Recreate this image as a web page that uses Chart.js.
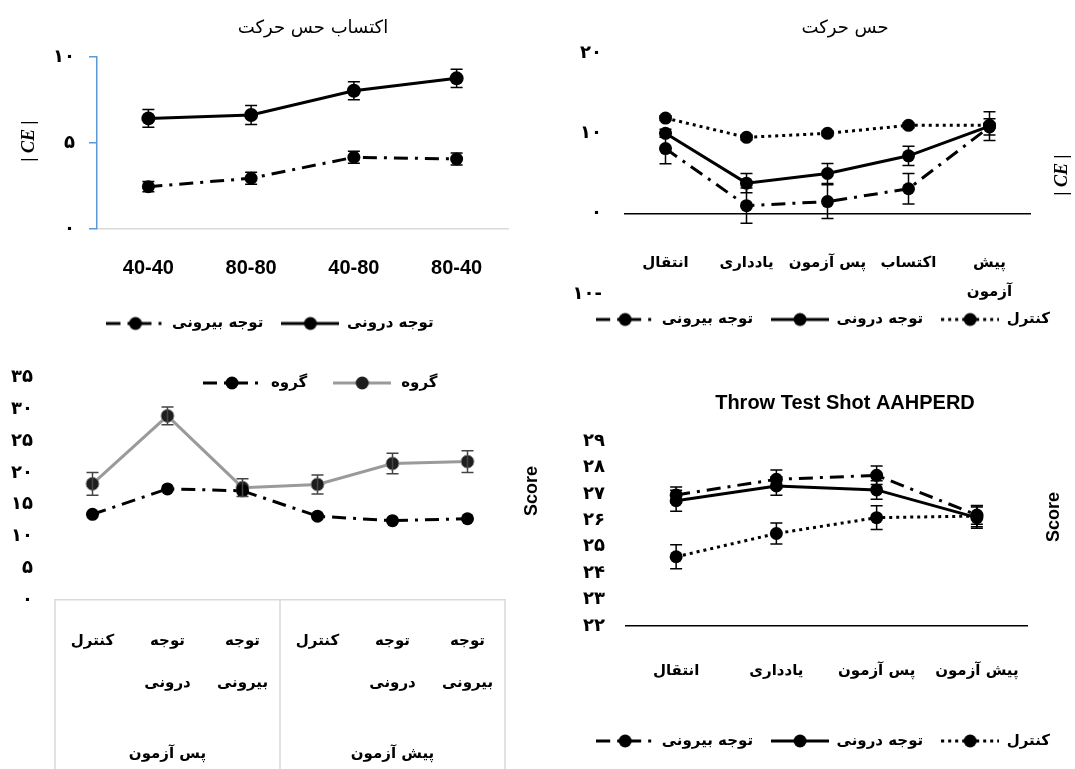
<!DOCTYPE html>
<html>
<head>
<meta charset="utf-8">
<script src="https://cdn.jsdelivr.net/npm/chart.js@4.4.1/dist/chart.umd.min.js"></script>
<style>
  html, body { margin: 0; padding: 0; background: #fff; }
  #wrap { position: relative; width: 1075px; height: 769px; overflow: hidden; }
  canvas { position: absolute; }
</style>
</head>
<body>
<div id="wrap">
  <canvas id="c1" width="540" height="345" style="left:0;top:0"></canvas>
  <canvas id="c2" width="535" height="345" style="left:540px;top:0"></canvas>
  <canvas id="c3" width="540" height="424" style="left:0;top:345px"></canvas>
  <canvas id="c4" width="535" height="389" style="left:540px;top:380px"></canvas>
</div>
<script>
"use strict";

// names
const extName = "توجه بیرونی";
const intName = "توجه درونی";
const ctrlName = "کنترل";
const groupName = "گروه";

// top left: اکتساب حس حرکت
const accTitle = "اکتساب حس حرکت";
const accLabels = ["40-40", "80-80", "40-80", "80-40"];
const accExternal = [2.46, 2.95, 4.17, 4.07];
const accExternalErr = [0.3, 0.35, 0.35, 0.35];
const accInternal = [6.43, 6.63, 8.04, 8.76];
const accInternalErr = [0.52, 0.55, 0.52, 0.53];
const accTicks = ["۰", "۵", "۱۰"];

// top right: حس حرکت
const kinTitle = "حس حرکت";
const kinLabels = ["انتقال", "یادداری", "پس آزمون", "اکتساب", ["پیش", "آزمون"]];
const kinExternal = [8.1, 1.0, 1.5, 3.1, 10.8];
const kinExternalErr = [1.9, 2.2, 2.1, 1.9, 1.0];
const kinInternal = [10.0, 3.8, 5.0, 7.2, 10.9];
const kinInternalErr = [0.5, 1.2, 1.25, 1.2, 1.8];
const kinControl = [11.9, 9.5, 10.0, 11.0, 11.0];
const kinControlErr = [0.3, 0.3, 0.3, 0.3, 0.3];
const kinTicks = ["۱۰-", "۰", "۱۰", "۲۰"];

// bottom left: groups by phase
const grpLabels = [["کنترل"], ["توجه", "درونی"], ["توجه", "بیرونی"], ["کنترل"], ["توجه", "درونی"], ["توجه", "بیرونی"]];
const grpPhases = ["پس آزمون", "پیش آزمون"];
const grpDashed = [13.5, 17.5, 17.2, 13.2, 12.5, 12.8];
const grpGray = [18.3, 29.0, 17.7, 18.2, 21.5, 21.8];
const grpGrayErr = [1.8, 1.4, 1.4, 1.5, 1.6, 1.7];
const grpTicks = ["۰", "۵", "۱۰", "۱۵", "۲۰", "۲۵", "۳۰", "۳۵"];

// bottom right: Throw Test Shot AAHPERD
const shotTitle = "Throw Test Shot AAHPERD";
const shotLabels = ["انتقال", "یادداری", "پس آزمون", "پیش آزمون"];
const shotExternal = [26.96, 27.55, 27.7, 26.2];
const shotExternalErr = [0.3, 0.35, 0.35, 0.35];
const shotInternal = [26.74, 27.3, 27.15, 26.1];
const shotInternalErr = [0.4, 0.35, 0.35, 0.4];
const shotControl = [24.62, 25.5, 26.1, 26.16];
const shotControlErr = [0.45, 0.4, 0.45, 0.4];
const shotTicks = ["۲۲", "۲۳", "۲۴", "۲۵", "۲۶", "۲۷", "۲۸", "۲۹"];

const faFont = "'DejaVu Sans', sans-serif";
const latinFont = "'Liberation Sans', Arial, sans-serif";

Chart.defaults.color = "#000";
Chart.defaults.font.family = faFont;

const solid = { borderColor: "#000", borderWidth: 3, borderDash: [] };
const dashDot = { borderColor: "#000", borderWidth: 3, borderDash: [14, 7, 3, 7] };
const dotted = { borderColor: "#000", borderWidth: 3, borderDash: [3, 4] };

function series(label, data, errors, style, extra) {
  return Object.assign({
    label, data, errors,
    fill: false, tension: 0,
    pointStyle: "circle", pointRadius: 6.5, pointHoverRadius: 6.5,
    pointBackgroundColor: "#000", pointBorderColor: "#000", pointBorderWidth: 0
  }, style, extra || {});
}

// vertical error bars from each dataset's errors array
const errorBars = {
  id: "errorBars",
  afterDatasetsDraw(chart) {
    const ctx = chart.ctx;
    chart.data.datasets.forEach((ds, i) => {
      if (!ds.errors) return;
      const meta = chart.getDatasetMeta(i);
      const ys = chart.scales[meta.yAxisID];
      ctx.save();
      ctx.strokeStyle = ds.errorColor || "#000";
      ctx.lineWidth = 1.5;
      meta.data.forEach((pt, j) => {
        const hi = ys.getPixelForValue(ds.data[j] + ds.errors[j]);
        const lo = ys.getPixelForValue(ds.data[j] - ds.errors[j]);
        ctx.beginPath();
        ctx.moveTo(pt.x, hi); ctx.lineTo(pt.x, lo);
        ctx.moveTo(pt.x - 6, hi); ctx.lineTo(pt.x + 6, hi);
        ctx.moveTo(pt.x - 6, lo); ctx.lineTo(pt.x + 6, lo);
        ctx.stroke();
      });
      ctx.restore();
    });
  }
};

function textLayer(items) {
  return {
    id: "textLayer",
    afterDraw(chart) {
      const ctx = chart.ctx;
      items.forEach(t => {
        ctx.save();
        ctx.font = t.font;
        ctx.fillStyle = "#000";
        ctx.textAlign = "center";
        ctx.textBaseline = "middle";
        ctx.translate(t.x, t.y);
        if (t.rot) ctx.rotate(t.rot * Math.PI / 180);
        ctx.fillText(t.text, 0, 0);
        ctx.restore();
      });
    }
  };
}

function legendSymbol(ds) {
  const c = document.createElement("canvas");
  c.width = 58; c.height = 16;
  const g = c.getContext("2d");
  g.strokeStyle = ds.borderColor;
  g.lineWidth = ds.borderWidth;
  g.setLineDash(ds.borderDash || []);
  g.beginPath(); g.moveTo(0, 8); g.lineTo(58, 8); g.stroke();
  g.setLineDash([]);
  g.fillStyle = ds.pointBackgroundColor;
  g.beginPath(); g.arc(29, 8, 6.5, 0, Math.PI * 2); g.fill();
  return c;
}

const legendFontSize = 15;

function legendOptions(align) {
  return {
    position: "bottom",
    align,
    labels: {
      usePointStyle: true, pointStyleWidth: 58, boxHeight: 13, padding: 18, color: "#000",
      font: { family: faFont, size: legendFontSize, weight: "bold" },
      generateLabels(chart) {
        return chart.data.datasets.map((ds, i) => ({
          text: ds.label, datasetIndex: i, pointStyle: legendSymbol(ds),
          fillStyle: "#000", strokeStyle: "#000", lineWidth: 0, hidden: false, fontColor: "#000"
        }));
      }
    }
  };
}

function spacer(w) {
  return {
    position: "right", display: true,
    ticks: { display: false }, grid: { display: false, drawTicks: false }, border: { display: false },
    afterFit(s) { s.width = w; }
  };
}

const noGrid = { display: false, drawTicks: false };
const tickFont = { family: faFont, size: 18, weight: "bold" };
const labelFont = { family: faFont, size: 15, weight: "bold" };
const ceFont = "bold italic 18px 'Liberation Serif', serif";
const scoreFont = "bold 18px " + latinFont;

// chart 1
new Chart(document.getElementById("c1"), {
  type: "line",
  data: {
    labels: accLabels,
    datasets: [
      series(extName, accExternal, accExternalErr, dashDot),
      series(intName, accInternal, accInternalErr, solid, { pointRadius: 7 })
    ]
  },
  options: {
    responsive: false, animation: false, events: [],
    layout: { padding: { top: 57, bottom: 4, left: 0, right: 0 } },
    plugins: { legend: legendOptions("center"), tooltip: { enabled: false } },
    scales: {
      x: {
        offset: true, grid: noGrid,
        border: { display: true, color: "#d9d9d9", width: 1.5 },
        ticks: { color: "#000", padding: 27, autoSkip: false, maxRotation: 0, font: { family: latinFont, size: 20, weight: "bold" } },
        afterFit(s) { s.height = 69; }
      },
      y: {
        min: 0, max: 10,
        grid: { display: true, drawOnChartArea: false, drawTicks: true, tickLength: 8, color: "#5b9bd5", lineWidth: 1.5 },
        border: { display: true, color: "#5b9bd5", width: 1.5 },
        ticks: { stepSize: 5, padding: 14, color: "#000", font: tickFont, callback: v => accTicks[v / 5] },
        afterFit(s) { s.width = 97; }
      },
      yR: spacer(32)
    }
  },
  plugins: [errorBars, textLayer([
    { text: accTitle, x: 313, y: 28, font: "18px " + faFont },
    { text: "| CE |", x: 29, y: 141, rot: -90, font: ceFont }
  ])]
});

// chart 2
new Chart(document.getElementById("c2"), {
  type: "line",
  data: {
    labels: kinLabels,
    datasets: [
      series(extName, kinExternal, kinExternalErr, dashDot),
      series(intName, kinInternal, kinInternalErr, solid),
      series(ctrlName, kinControl, kinControlErr, dotted)
    ]
  },
  options: {
    responsive: false, animation: false, events: [],
    layout: { padding: { top: 53, bottom: 8, left: 0, right: 7 } },
    plugins: { legend: legendOptions("end"), tooltip: { enabled: false } },
    scales: {
      x: {
        offset: true, position: { y: 0 }, grid: noGrid,
        border: { display: true, color: "#000", width: 1.5 },
        ticks: {
          color: "#000", padding: 35, autoSkip: false, maxRotation: 0, minRotation: 0,
          font: { family: faFont, size: 15, weight: "bold", lineHeight: 1.95 }
        }
      },
      y: {
        min: -10, max: 20,
        grid: noGrid, border: { display: false },
        ticks: { stepSize: 10, padding: 23, color: "#000", font: tickFont, callback: v => kinTicks[(v + 10) / 10] },
        afterFit(s) { s.width = 85; }
      },
      yR: spacer(38)
    }
  },
  plugins: [errorBars, textLayer([
    { text: kinTitle, x: 305, y: 28, font: "18px " + faFont },
    { text: "| CE |", x: 522, y: 175, rot: -90, font: ceFont }
  ])]
});

// chart 3
const phaseFrame = {
  id: "phaseFrame",
  afterDraw(chart) {
    const { ctx, chartArea: a, scales: { x } } = chart;
    const mid = (x.getPixelForValue(2) + x.getPixelForValue(3)) / 2;
    ctx.save();
    ctx.strokeStyle = "#d9d9d9";
    ctx.lineWidth = 1.5;
    [a.left, mid, a.right].forEach(px => {
      ctx.beginPath(); ctx.moveTo(px, a.bottom); ctx.lineTo(px, chart.height); ctx.stroke();
    });
    ctx.restore();
  }
};

function inlineLegend(x0, y) {
  return {
    id: "inlineLegend",
    afterDraw(chart) {
      const ctx = chart.ctx;
      let x = x0;
      chart.data.datasets.forEach(ds => {
        const sym = legendSymbol(ds);
        ctx.drawImage(sym, x, y - sym.height / 2);
        x += sym.width + 10;
        ctx.save();
        ctx.font = "bold " + legendFontSize + "px " + faFont;
        ctx.fillStyle = "#000";
        ctx.textAlign = "left";
        ctx.textBaseline = "middle";
        ctx.fillText(ds.label, x, y);
        x += ctx.measureText(ds.label).width + 26;
        ctx.restore();
      });
    }
  };
}

new Chart(document.getElementById("c3"), {
  type: "line",
  data: {
    labels: grpLabels,
    datasets: [
      series(groupName, grpDashed, null, dashDot),
      series(groupName, grpGray, grpGrayErr, { borderColor: "#9a9a9a", borderWidth: 3, borderDash: [] },
        { pointBackgroundColor: "#1e1e1e", pointBorderColor: "#8a8a8a", pointBorderWidth: 1, errorColor: "#444" })
    ]
  },
  options: {
    responsive: false, animation: false, events: [],
    layout: { padding: { top: 31, bottom: 0, left: 0, right: 35 } },
    plugins: { legend: { display: false }, tooltip: { enabled: false } },
    scales: {
      x: {
        offset: true, grid: noGrid,
        border: { display: true, color: "#d9d9d9", width: 1.5 },
        ticks: {
          color: "#000", padding: 20, autoSkip: false, maxRotation: 0, minRotation: 0,
          font: { family: faFont, size: 15, weight: "bold", lineHeight: 2.8 }
        },
        afterFit(s) { s.height = 130; }
      },
      x2: {
        type: "category", labels: grpPhases, offset: true, position: "bottom",
        grid: noGrid, border: { display: false },
        ticks: { color: "#000", padding: 15, autoSkip: false, maxRotation: 0, font: labelFont },
        afterFit(s) { s.height = 39; }
      },
      y: {
        min: 0, max: 35,
        grid: noGrid, border: { display: false },
        ticks: { stepSize: 5, padding: 22, color: "#000", font: tickFont, callback: v => grpTicks[v / 5] },
        afterFit(s) { s.width = 55; }
      }
    }
  },
  plugins: [errorBars, phaseFrame, inlineLegend(203, 38), textLayer([
    { text: "Score", x: 532, y: 146, rot: -90, font: scoreFont }
  ])]
});

// chart 4
new Chart(document.getElementById("c4"), {
  type: "line",
  data: {
    labels: shotLabels,
    datasets: [
      series(extName, shotExternal, shotExternalErr, dashDot),
      series(intName, shotInternal, shotInternalErr, solid),
      series(ctrlName, shotControl, shotControlErr, dotted)
    ]
  },
  options: {
    responsive: false, animation: false, events: [],
    layout: { padding: { top: 61, bottom: 10.5, left: 0, right: 7 } },
    plugins: { legend: legendOptions("end"), tooltip: { enabled: false } },
    scales: {
      x: {
        offset: true, grid: noGrid,
        border: { display: true, color: "#000", width: 1.5 },
        ticks: { color: "#000", padding: 36, autoSkip: false, maxRotation: 0, minRotation: 0, font: labelFont },
        afterFit(s) { s.height = 89.5; }
      },
      y: {
        min: 22, max: 29,
        grid: noGrid, border: { display: false },
        ticks: { stepSize: 1, padding: 21, color: "#000", font: tickFont, callback: v => shotTicks[v - 22] },
        afterFit(s) { s.width = 86; }
      },
      yR: spacer(41)
    }
  },
  plugins: [errorBars, textLayer([
    { text: shotTitle, x: 305, y: 23, font: "bold 20px " + latinFont },
    { text: "Score", x: 514, y: 137, rot: -90, font: scoreFont }
  ])]
});
</script>
</body>
</html>
